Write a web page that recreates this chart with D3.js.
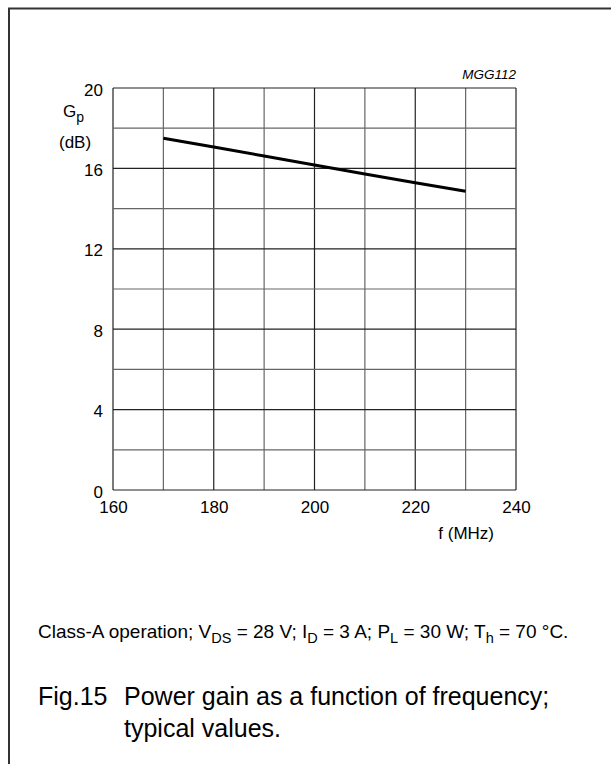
<!DOCTYPE html>
<html>
<head>
<meta charset="utf-8">
<script src="https://cdn.jsdelivr.net/npm/d3@7"></script>
<style>
  body { margin: 0; background: #fff; }
  text { font-family: "Liberation Sans", Arial, sans-serif; fill: #000; }
</style>
</head>
<body>
<div id="chart"></div>
<script>
// values
const freq = [170, 180, 190, 200, 210, 220, 230];
const gain = [17.5, 17.06, 16.62, 16.17, 15.72, 15.29, 14.86];
const xTicks = [160, 180, 200, 220, 240];
const yTicks = [0, 4, 8, 12, 16, 20];
const xGrid = d3.range(160, 241, 10);
const yGrid = d3.range(0, 21, 2);

const width = 611, height = 764;
const margin = {top: 88, left: 113, right: 95, bottom: 274};
const plot_w = width - margin.left - margin.right;
const plot_h = height - margin.top - margin.bottom;

const svg = d3.select('#chart')
  .append('svg')
    .attr('width', width)
    .attr('height', height);

// page frame (top and left only)
svg.append('path')
  .attr('d', 'M9,' + height + 'V8.5H' + width)
  .attr('fill', 'none')
  .attr('stroke', '#333')
  .attr('stroke-width', 2);

const g = svg.append('g')
  .attr('transform', 'translate(' + margin.left + ',' + margin.top + ')');

const x = d3.scaleLinear().domain([160, 240]).range([0, plot_w]);
const y = d3.scaleLinear().domain([0, 20]).range([plot_h, 0]);

// grid
g.selectAll('.vgrid')
  .data(xGrid)
  .enter().append('line')
    .attr('x1', d => x(d)).attr('x2', d => x(d))
    .attr('y1', 0).attr('y2', plot_h)
    .attr('stroke', (d, i) => i % 2 ? '#666' : '#222')
    .attr('stroke-width', 1.2);

g.selectAll('.hgrid')
  .data(yGrid)
  .enter().append('line')
    .attr('x1', 0).attr('x2', plot_w)
    .attr('y1', d => y(d)).attr('y2', d => y(d))
    .attr('stroke', (d, i) => i % 2 ? '#666' : '#222')
    .attr('stroke-width', 1.2);

// tick labels
g.append('g')
  .attr('transform', 'translate(0,' + plot_h + ')')
  .call(d3.axisBottom(x).tickValues(xTicks).tickSize(0).tickPadding(11))
  .call(a => a.select('.domain').remove())
  .selectAll('text')
    .style('font-size', '17px')
    .attr('font-family', null);

g.append('g')
  .call(d3.axisLeft(y).tickValues(yTicks).tickSize(0).tickPadding(10))
  .call(a => a.select('.domain').remove())
  .selectAll('text')
    .attr('dy', '0.42em')
    .style('font-size', '17px')
    .attr('font-family', null);

// data line
const line = d3.line()
  .x((d, i) => x(freq[i]))
  .y(d => y(d));

g.append('path')
  .datum(gain)
  .attr('d', line)
  .attr('fill', 'none')
  .attr('stroke', '#000')
  .attr('stroke-width', 3);

// labels
const gl = svg.append('text')
  .attr('x', 63).attr('y', 117)
  .style('font-size', '17px');
gl.append('tspan').text('G');
gl.append('tspan').text('p').attr('dy', 5).style('font-size', '14px');

svg.append('text')
  .attr('x', 59).attr('y', 148)
  .style('font-size', '17px')
  .text('(dB)');

svg.append('text')
  .attr('x', margin.left + plot_w).attr('y', 79)
  .attr('text-anchor', 'end')
  .style('font-size', '13.5px')
  .style('font-style', 'italic')
  .text('MGG112');

svg.append('text')
  .attr('x', 494).attr('y', 539)
  .attr('text-anchor', 'end')
  .style('font-size', '17px')
  .text('f (MHz)');

// conditions
const cond = svg.append('text')
  .attr('x', 38).attr('y', 638)
  .style('font-size', '19px');
const parts = [['Class-A operation; V', 0], ['DS', 1], [' = 28 V; I', 0], ['D', 1], [' = 3 A; P', 0], ['L', 1], [' = 30 W; T', 0], ['h', 1], [' = 70 \u00B0C.', 0]];
let prevSub = 0;
parts.forEach(p => {
  const t = cond.append('tspan').text(p[0]);
  const dy = (p[1] - prevSub) * 5;
  if (dy) t.attr('dy', dy);
  if (p[1]) t.style('font-size', '14.5px');
  prevSub = p[1];
});

svg.append('text')
  .attr('x', 38).attr('y', 705)
  .style('font-size', '25px')
  .text('Fig.15');
svg.append('text')
  .attr('x', 124).attr('y', 705)
  .style('font-size', '25px')
  .text('Power gain as a function of frequency;');
svg.append('text')
  .attr('x', 124).attr('y', 737)
  .style('font-size', '25px')
  .text('typical values.');
</script>
</body>
</html>
